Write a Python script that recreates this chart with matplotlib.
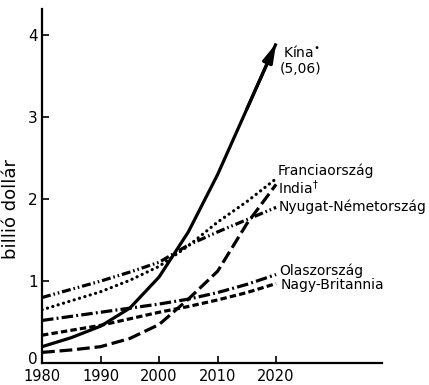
import matplotlib
matplotlib.use("Agg")
import matplotlib.pyplot as plt
from matplotlib.transforms import ScaledTranslation

years = [1980, 1985, 1990, 1995, 2000, 2005, 2010, 2015, 2020]
china = [0.20, 0.31, 0.45, 0.67, 1.05, 1.60, 2.30, 3.10, 3.90]
france = [0.65, 0.76, 0.87, 1.01, 1.18, 1.43, 1.72, 1.97, 2.25]
india = [0.13, 0.16, 0.20, 0.30, 0.47, 0.78, 1.12, 1.70, 2.18]
germany = [0.80, 0.90, 1.00, 1.11, 1.23, 1.44, 1.60, 1.75, 1.90]
italy = [0.52, 0.57, 0.62, 0.67, 0.72, 0.78, 0.86, 0.96, 1.08]
britain = [0.34, 0.40, 0.46, 0.54, 0.62, 0.69, 0.77, 0.86, 0.97]

xticks = [1980, 1990, 2000, 2010, 2020]
yticks = [0, 1, 2, 3, 4]

plt.rcParams['font.family'] = ['DejaVu Sans']
fig = plt.figure(figsize=(4.29, 3.85), dpi=100)
ax = fig.add_axes([0.098, 0.057, 0.7925, 0.9195])

lw = 2.3
ax.plot(years, china, color='k', lw=lw, solid_capstyle='butt')
ax.annotate('', xy=(years[-1], china[-1]), xytext=(years[-2], china[-2]),
            arrowprops=dict(arrowstyle='-|>,head_length=1.1,head_width=0.3',
                            lw=lw, color='k', shrinkA=0, shrinkB=0))
ax.plot(years, france, color='k', lw=lw, linestyle=(0, (0.05, 1.7)), dash_capstyle='round')
ax.plot(years, india, color='k', lw=lw, linestyle=(0, (4, 1.5)))
ax.plot(years, germany, color='k', lw=lw, linestyle=(0, (2.8, 0.9, 0.5, 0.9, 0.5, 0.9)))
ax.plot(years, italy, color='k', lw=lw, linestyle=(0, (3.6, 1.0, 0.6, 1.0)))
ax.plot(years, britain, color='k', lw=lw, linestyle=(0, (2.0, 1.0)))

fs = 10
ax.text(2021.2, 3.79, 'Kína$^{\\bullet}$', fontsize=fs, va='center', ha='left')
ax.text(2020.6, 3.59, '(5,06)', fontsize=fs, va='center', ha='left')
ax.text(2020.3, 2.35, 'Franciaország', fontsize=fs, va='center', ha='left')
ax.text(2020.4, 2.14, 'India$^{\\dagger}$', fontsize=fs, va='center', ha='left')
ax.text(2020.4, 1.91, 'Nyugat-Németország', fontsize=fs, va='center', ha='left')
ax.text(2020.6, 1.13, 'Olaszország', fontsize=fs, va='center', ha='left')
ax.text(2020.8, 0.95, 'Nagy-Britannia', fontsize=fs, va='center', ha='left')

ax.set_xlim(1980, 2038.1)
ax.set_ylim(0, 4.32)
ax.set_xticks(xticks)
ax.set_yticks(yticks)
ax.set_xticklabels([str(x) for x in xticks], fontsize=10.5)
ax.set_yticklabels([str(y) for y in yticks], fontsize=11)
ax.tick_params(direction='in', length=5, width=1.2, pad=3)
ax.tick_params(axis='x', pad=4.5)
for s in ['top', 'right']:
    ax.spines[s].set_visible(False)
for s in ['left', 'bottom']:
    ax.spines[s].set_linewidth(1.6)

zero_label = ax.get_yticklabels()[0]
zero_label.set_transform(zero_label.get_transform() +
                         ScaledTranslation(0, 3.5 / 72, fig.dpi_scale_trans))

fig.text(11 / 429, 1 - 209 / 385, 'billió dollár', fontsize=13, rotation=90,
         ha='center', va='center')

fig.savefig('out.png', dpi=100)
